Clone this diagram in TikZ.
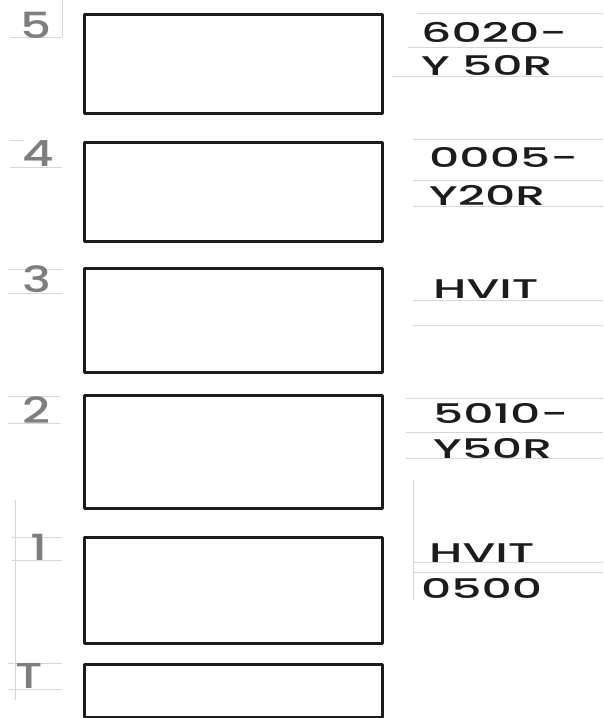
\documentclass[tikz,border=0pt]{standalone}
\usepackage{fontspec}
\usepackage{graphicx}
\setmainfont{Poppins}
\newfontfamily\handfont{Poppins Medium}
\definecolor{SkInk}{HTML}{1C1C1C}
\definecolor{SkPencil}{HTML}{7E7E7E}
\definecolor{SkRule}{HTML}{D6D6D6}
\newcommand{\handwide}[1]{\scalebox{1.75}[1]{#1}}
\newcommand{\pencilwide}[1]{\scalebox{1.35}[1]{#1}}
\tikzset{
  floorbox/.style={SkInk,line width=3pt,line join=round},
  floorlbl/.style={anchor=base west,inner sep=0pt,SkPencil,font=\handfont\fontsize{36}{36}\selectfont},
  colourtxt/.style={anchor=base west,inner sep=0pt,SkInk,font=\handfont\fontsize{27}{27}\selectfont},
  ruling/.style={SkRule,line width=.8pt}
}
\begin{document}
\begin{tikzpicture}[x=1pt,y=-1pt]
\path[use as bounding box] (0,0) rectangle (603,718);
\fill[white] (0,0) rectangle (603,718);
% ruled paper, left
\draw[ruling] (10,37) -- (62,37);
\draw[ruling] (62,0) -- (62,37);
\draw[ruling] (10,140) -- (24,140);
\draw[ruling] (10,167) -- (62,167);
\draw[ruling] (8,269) -- (63,269);
\draw[ruling] (8,293) -- (63,293);
\draw[ruling] (8,396) -- (60,396);
\draw[ruling] (8,423) -- (60,423);
\draw[ruling] (12,537) -- (62,537);
\draw[ruling] (12,560) -- (62,560);
\draw[ruling] (8,663) -- (62,663);
\draw[ruling] (8,689) -- (62,689);
\draw[ruling] (15,500) -- (15,700);
% ruled paper, right
\draw[ruling] (417,13) -- (603,13);
\draw[ruling] (408,47) -- (603,47);
\draw[ruling] (392,76) -- (603,76);
\draw[ruling] (413,139) -- (603,139);
\draw[ruling] (413,180) -- (603,180);
\draw[ruling] (413,206) -- (603,206);
\draw[ruling] (413,300) -- (603,300);
\draw[ruling] (413,325) -- (603,325);
\draw[ruling] (406,398) -- (603,398);
\draw[ruling] (406,432) -- (603,432);
\draw[ruling] (406,458) -- (603,458);
\draw[ruling] (413,562) -- (603,562);
\draw[ruling] (413,572) -- (603,572);
\draw[ruling] (413,480) -- (413,600);
% floors
\draw[floorbox] (84,14) rectangle (382,113);
\draw[floorbox] (84,142) rectangle (382,241);
\draw[floorbox] (84,268) rectangle (382,372);
\draw[floorbox] (84,395) rectangle (382,508);
\draw[floorbox] (84,537) rectangle (382,643);
\draw[floorbox] (84,664) rectangle (382,717);
% floor numbers
\node[floorlbl] (lbl5) at (20,38) {\pencilwide{5}};
\node[floorlbl] (lbl4) at (22,166) {\pencilwide{4}};
\node[floorlbl] (lbl3) at (22,292) {\pencilwide{3}};
\node[floorlbl] (lbl2) at (22,423) {\pencilwide{2}};
\node[floorlbl] (lbl1) at (30,560) {\pencilwide{1}};
\node[floorlbl] (lblT) at (15,688) {\pencilwide{T}};
% colour codes
\node[colourtxt] (col5a) at (421,42) {\handwide{6020-}};
\node[colourtxt] (col5b) at (421,75) {\handwide{Y 50R}};
\node[colourtxt] (col4a) at (429,167) {\handwide{0005-}};
\node[colourtxt] (col4b) at (429,205) {\handwide{Y20R}};
\node[colourtxt] (col3a) at (433,298) {\handwide{HVIT}};
\node[colourtxt] (col2a) at (433,423) {\handwide{5010-}};
\node[colourtxt] (col2b) at (433,458) {\handwide{Y50R}};
\node[colourtxt] (col1a) at (429,562) {\handwide{HVIT}};
\node[colourtxt] (col1b) at (421,598) {\handwide{0500}};
\end{tikzpicture}
\end{document}
